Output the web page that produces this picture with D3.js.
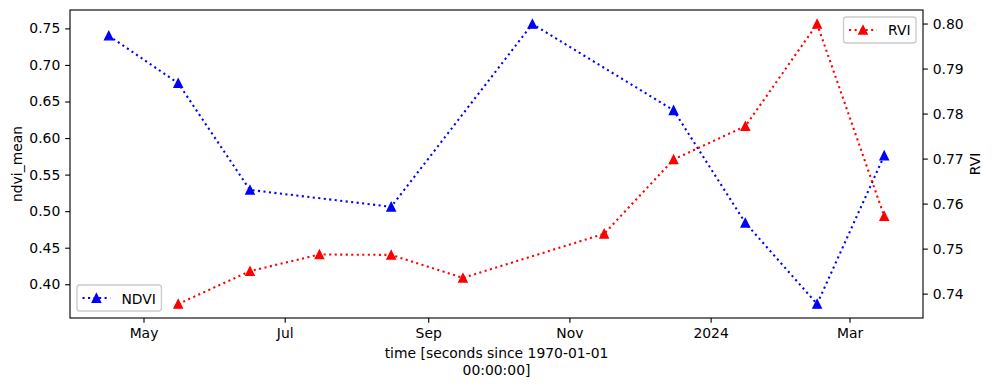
<!DOCTYPE html>
<html>
<head>
<meta charset="utf-8">
<script src="https://cdn.jsdelivr.net/npm/d3@7"></script>
<style>
  body { margin: 0; background: #fff; }
  svg { display: block; font-family: "DejaVu Sans", sans-serif; }
</style>
</head>
<body>
<svg id="chart" width="992" height="387"></svg>
<script>

// NDVI series (left axis)
var ndviDates  = ["2023-04-16","2023-05-16","2023-06-16","2023-08-16","2023-10-16",
                  "2023-12-16","2024-01-16","2024-02-16","2024-03-16"];
var ndviValues = [0.740, 0.675, 0.529, 0.506, 0.756, 0.638, 0.484, 0.373, 0.576];

// RVI series (right axis)
var rviDates  = ["2023-05-16","2023-06-16","2023-07-16","2023-08-16","2023-09-16",
                 "2023-11-16","2023-12-16","2024-01-16","2024-02-16","2024-03-16"];
var rviValues = [0.7377, 0.7450, 0.7487, 0.7486, 0.7435, 0.7533, 0.7698, 0.7772, 0.7999, 0.7572];

// axis ticks
var xTickDates  = ["2023-05-01","2023-07-01","2023-09-01","2023-11-01","2024-01-01","2024-03-01"];
var xTickLabels = ["May","Jul","Sep","Nov","2024","Mar"];
var leftTicks   = [0.40, 0.45, 0.50, 0.55, 0.60, 0.65, 0.70, 0.75];
var rightTicks  = [0.74, 0.75, 0.76, 0.77, 0.78, 0.79, 0.80];


//**************************************************************************
//** layout
//**************************************************************************
var margin = {top: 10, right: 69, bottom: 69, left: 70};
var width = 992, height = 387;
var fs = 13.9;           // 10pt at 100 dpi
var pt = 1.389;

var svg = d3.select("#chart");
var parse = d3.utcParse("%Y-%m-%d");

var ndvi = ndviDates.map(function(d, i){ return {date: parse(d), value: ndviValues[i]}; });
var rvi  = rviDates.map(function(d, i){ return {date: parse(d), value: rviValues[i]}; });

// matplotlib style 5% margins
var pad = function(ext){
    var p = (ext[1] - ext[0]) * 0.05;
    return [ext[0] - p, ext[1] + p];
};

var allDates = ndvi.concat(rvi).map(function(d){ return +d.date; });
var xExt = pad(d3.extent(allDates));

var x = d3.scaleUtc()
    .domain([new Date(xExt[0]), new Date(xExt[1])])
    .range([margin.left, width - margin.right]);

var yL = d3.scaleLinear()
    .domain(pad(d3.extent(ndviValues)))
    .range([height - margin.bottom, margin.top]);

var yR = d3.scaleLinear()
    .domain(pad(d3.extent(rviValues)))
    .range([height - margin.bottom, margin.top]);

var x0 = margin.left, x1 = width - margin.right;
var y0 = margin.top,  y1 = height - margin.bottom;


//**************************************************************************
//** axes
//**************************************************************************
var tickLen = 3.5 * pt;
var tickPad = 3.5 * pt;

var xAxis = d3.axisBottom(x)
    .tickValues(xTickDates.map(parse))
    .tickFormat(function(d, i){ return xTickLabels[i]; })
    .tickSize(tickLen).tickPadding(tickPad);

var leftAxis = d3.axisLeft(yL)
    .tickValues(leftTicks)
    .tickFormat(d3.format(".2f"))
    .tickSize(tickLen).tickPadding(tickPad);

var rightAxis = d3.axisRight(yR)
    .tickValues(rightTicks)
    .tickFormat(d3.format(".2f"))
    .tickSize(tickLen).tickPadding(tickPad);

var styleAxis = function(g){
    g.select(".domain").remove();
    g.selectAll(".tick line").attr("stroke", "#000").attr("stroke-width", 0.8 * pt);
    g.selectAll(".tick text")
        .attr("fill", "#000")
        .style("font-family", "DejaVu Sans")
        .style("font-size", fs + "px");
};

svg.append("g").attr("transform", "translate(0," + y1 + ")").call(xAxis).call(styleAxis);
svg.append("g").attr("transform", "translate(" + x0 + ",0)").call(leftAxis).call(styleAxis);
svg.append("g").attr("transform", "translate(" + x1 + ",0)").call(rightAxis).call(styleAxis);


//**************************************************************************
//** series
//**************************************************************************
var lw = 1.5 * pt;
var dash = (1 * 1.5 * pt).toFixed(2) + "," + (1.65 * 1.5 * pt).toFixed(2);
var triSize = 6 * pt;
var tri = function(cx, cy){
    var h = triSize / 2;
    return "M" + cx + "," + (cy - h) + "L" + (cx - h) + "," + (cy + h) + "L" + (cx + h) + "," + (cy + h) + "Z";
};

var drawSeries = function(data, y, color){
    var line = d3.line()
        .x(function(d){ return x(d.date); })
        .y(function(d){ return y(d.value); });

    svg.append("path")
        .datum(data)
        .attr("d", line)
        .attr("fill", "none")
        .attr("stroke", color)
        .attr("stroke-width", lw)
        .attr("stroke-dasharray", dash);

    svg.append("g")
        .selectAll("path")
        .data(data)
        .enter()
        .append("path")
        .attr("d", function(d){ return tri(x(d.date), y(d.value)); })
        .attr("fill", color)
        .attr("stroke", color)
        .attr("stroke-width", 1 * pt)
        .attr("stroke-linejoin", "miter");
};

// legend box
var drawLegend = function(label, color, corner){
    var g = svg.append("g");
    var bpad = 0.4 * fs, hlen = 2 * fs, tpad = 0.8 * fs, axpad = 0.5 * fs;

    var txt = g.append("text")
        .text(label)
        .style("font-size", fs + "px")
        .attr("fill", "#000")
        .attr("dominant-baseline", "central");
    var tw = txt.node().getComputedTextLength();

    var bw = bpad * 2 + hlen + tpad + tw;
    var bh = 26;
    var bx = corner === "ll" ? x0 + axpad : x1 - axpad - bw;
    var by = corner === "ll" ? y1 - axpad - bh : y0 + axpad;

    g.insert("rect", "text")
        .attr("x", bx).attr("y", by)
        .attr("width", bw).attr("height", bh)
        .attr("rx", 0.2 * fs).attr("ry", 0.2 * fs)
        .attr("fill", "#fff").attr("fill-opacity", 0.8)
        .attr("stroke", "#cccccc").attr("stroke-width", 1 * pt);

    var cy = by + bh / 2;
    var lx0 = bx + bpad, lx1 = lx0 + hlen;
    g.append("line")
        .attr("x1", lx0).attr("x2", lx1)
        .attr("y1", cy).attr("y2", cy)
        .attr("stroke", color).attr("stroke-width", lw)
        .attr("stroke-dasharray", dash);
    g.append("path")
        .attr("d", tri((lx0 + lx1) / 2, cy))
        .attr("fill", color).attr("stroke", color).attr("stroke-width", 1 * pt);

    txt.attr("x", lx1 + tpad).attr("y", cy + 0.5);
};

drawSeries(ndvi, yL, "#0000ff");
drawLegend("NDVI", "#0000ff", "ll");
drawSeries(rvi, yR, "#ff0000");
drawLegend("RVI", "#ff0000", "ur");

// frame
svg.append("rect")
    .attr("x", x0).attr("y", y0)
    .attr("width", x1 - x0).attr("height", y1 - y0)
    .attr("fill", "none")
    .attr("stroke", "#000")
    .attr("stroke-width", 0.8 * pt);


//**************************************************************************
//** axis titles
//**************************************************************************
var xlab = svg.append("text")
    .attr("text-anchor", "middle")
    .style("font-size", fs + "px")
    .attr("fill", "#000");
xlab.append("tspan").attr("x", (x0 + x1) / 2).attr("y", 357.5).text("time [seconds since 1970-01-01");
xlab.append("tspan").attr("x", (x0 + x1) / 2).attr("y", 374.5).text("00:00:00]");

svg.append("text")
    .attr("transform", "translate(22," + ((y0 + y1) / 2) + ") rotate(-90)")
    .attr("text-anchor", "middle")
    .style("font-size", fs + "px")
    .attr("fill", "#000")
    .text("ndvi_mean");

svg.append("text")
    .attr("transform", "translate(980," + ((y0 + y1) / 2) + ") rotate(-90)")
    .attr("text-anchor", "middle")
    .style("font-size", fs + "px")
    .attr("fill", "#000")
    .text("RVI");

</script>
</body>
</html>
